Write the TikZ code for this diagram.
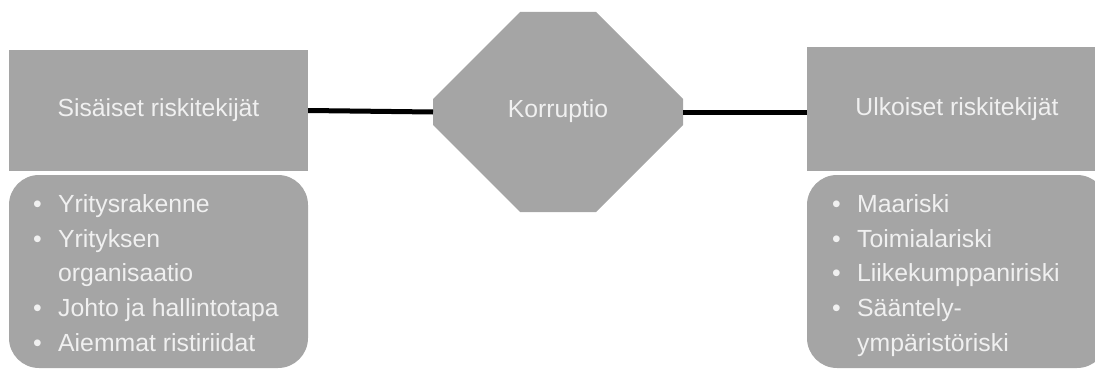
\documentclass[tikz,border=0pt]{standalone}
\usepackage{fontspec}
\setmainfont{Liberation Sans}
\begin{document}
\begin{tikzpicture}[x=1pt,y=-1pt,
  boxfill/.style={fill=boxgray, draw=none},
  head/.style={boxfill, minimum width=299pt, minimum height=121pt, inner sep=0pt,
    text=txtgray, font=\fontsize{24.7}{30}\selectfont},
  listbox/.style={boxfill, rounded corners=30pt, inner sep=0pt},
  item/.style={text=txtgray, inner sep=0pt, anchor=base west, font=\fontsize{24.8}{30}\selectfont},
  link/.style={draw=black, line width=5pt}]
\definecolor{boxgray}{HTML}{A5A5A5}
\definecolor{txtgray}{HTML}{F0F0F0}
\useasboundingbox (0,0) rectangle (1095,369);
% heading boxes
\node[head] (sis) at (158.5,110.5) {Sisäiset riskitekijät};
\node[head, minimum width=300pt, minimum height=124pt] (ulk) at (957,109) {Ulkoiset riskitekijät};
% list boxes
\node[listbox, minimum width=299pt, minimum height=193pt] (sisl) at (158.5,271.5) {};
\node[listbox, minimum width=300pt, minimum height=193pt] (ulkl) at (957,271.5) {};
% octagon
\coordinate (kl) at (433,112);
\coordinate (kr) at (683,112);
\fill[boxgray] (520,12) -- (596,12) -- (683,99) -- (683,125) -- (596,212) -- (520,212) -- (433,125) -- (433,99) -- cycle;
\node[text=txtgray, font=\fontsize{24.7}{30}\selectfont] (kor) at (558,111) {Korruptio};
% connectors
\draw[link] (sis.east) -- (kl);
\draw[link] (kr) -- (ulk.west |- kr);
% left list
\node[item] (a1) at (33,212) {\makebox[25pt][l]{\textbullet}Yritysrakenne};
\node[item] (a2) at (33,247) {\makebox[25pt][l]{\textbullet}Yrityksen};
\node[item] (a3) at (58,281) {organisaatio};
\node[item] (a4) at (33,316) {\makebox[25pt][l]{\textbullet}Johto ja hallintotapa};
\node[item] (a5) at (33,351) {\makebox[25pt][l]{\textbullet}Aiemmat ristiriidat};
% right list
\node[item] (b1) at (832,212) {\makebox[25pt][l]{\textbullet}Maariski};
\node[item] (b2) at (832,247) {\makebox[25pt][l]{\textbullet}Toimialariski};
\node[item] (b3) at (832,281) {\makebox[25pt][l]{\textbullet}Liikekumppaniriski};
\node[item] (b4) at (832,316) {\makebox[25pt][l]{\textbullet}Sääntely-};
\node[item] (b5) at (857,351) {ympäristöriski};
\end{tikzpicture}
\end{document}
